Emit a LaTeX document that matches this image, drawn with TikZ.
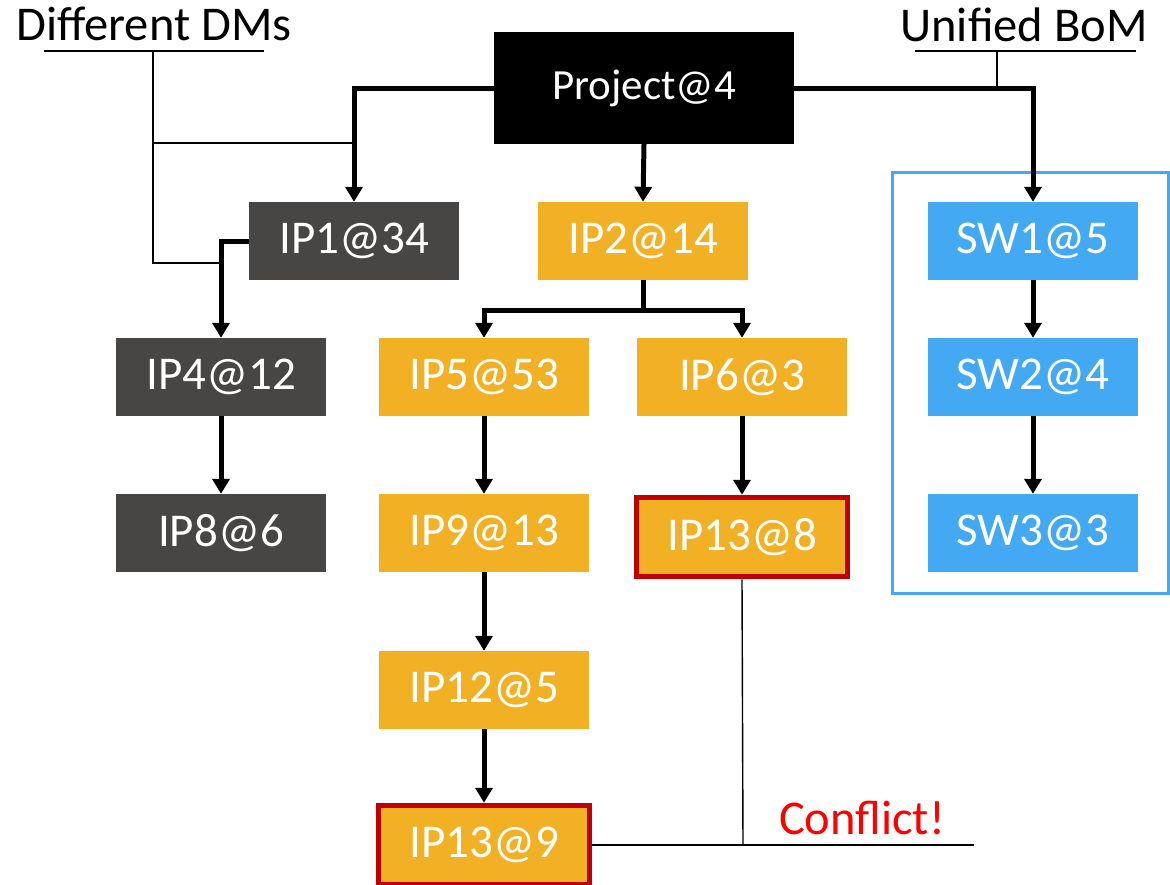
\documentclass[tikz,border=0pt]{standalone}
\usepackage{fontspec}
\setmainfont{Carlito}
\usetikzlibrary{arrows.meta,calc}
\definecolor{dgray}{HTML}{474645}
\definecolor{gold}{HTML}{F2B124}
\definecolor{sky}{HTML}{42A9F2}
\definecolor{dred}{HTML}{C00000}
\definecolor{bred}{HTML}{FF0000}
\tikzset{
  box/.style={minimum width=210pt, minimum height=78pt, inner sep=0pt, text=white, font=\fontsize{47}{47}\selectfont},
  dbox/.style={box, fill=dgray},
  gbox/.style={box, fill=gold},
  bbox/.style={box, fill=sky},
  rbox/.style={box, fill=gold, draw=dred, line width=5.5pt, minimum width=211pt, minimum height=79pt},
  conn/.style={line width=5pt, -{Triangle[length=15pt,width=17pt]}},
  plainconn/.style={line width=5pt},
  thin/.style={line width=1.4pt},
  lbl/.style={font=\fontsize{48.5}{48.5}\selectfont, inner sep=0pt, anchor=base},
}
\begin{document}
\begin{tikzpicture}[x=1pt,y=-1pt]
\useasboundingbox (0,0) rectangle (1170,884);
% blue frame
\draw[sky, line width=3.5pt] (892.5,172.5) rectangle (1168.5,593.5);
% nodes
\node[box, fill=black, minimum width=300pt, minimum height=112pt, font=\fontsize{43}{43}\selectfont] (proj) at (644,88) {Project@4};
\node[dbox] (ip1) at (354,241) {IP1@34};
\node[gbox] (ip2) at (643,241) {IP2@14};
\node[bbox] (sw1) at (1033,241) {SW1@5};
\node[dbox] (ip4) at (221,377) {IP4@12};
\node[gbox] (ip5) at (484,377) {IP5@53};
\node[gbox] (ip6) at (742,377) {IP6@3};
\node[bbox] (sw2) at (1033,377) {SW2@4};
\node[dbox] (ip8) at (221,533) {IP8@6};
\node[gbox] (ip9) at (484,533) {IP9@13};
\node[rbox] (ip13a) at (742,537) {IP13@8};
\node[bbox] (sw3) at (1033,533) {SW3@3};
\node[gbox] (ip12) at (484,690) {IP12@5};
\node[rbox] (ip13b) at (484,845) {IP13@9};
% labels
\node[lbl] (dm) at (154,40) {Different DMs};
\node[lbl] (ub) at (1024,41) {Unified BoM};
\node[lbl, text=bred] (cf) at (862,834) {Conflict!};
% connectors
\draw[conn] (proj.west) -| (ip1.north);
\draw[conn] (proj.south) -- (ip2.north);
\draw[conn] (proj.east) -| (sw1.north);
\draw[conn] (ip1.west) -| (ip4.north);
\coordinate (b2) at ($(ip2.south)+(0,30)$);
\draw[plainconn] (ip2.south) -- (b2);
\draw[conn] (b2) -| (ip5.north);
\draw[conn] (b2) -| (ip6.north);
\draw[conn] (ip4) -- (ip8);
\draw[conn] (ip5) -- (ip9);
\draw[conn] (ip9) -- (ip12);
\draw[conn] (ip12) -- (ip13b);
\draw[conn] (ip6) -- (ip13a);
\draw[conn] (sw1) -- (sw2);
\draw[conn] (sw2) -- (sw3);
% callout: Different DMs
\coordinate (dmL) at (44,51);
\coordinate (dmR) at (264,51);
\coordinate (dmT) at (153,51);
\coordinate (dmM) at (153,143);
\coordinate (dmB) at (153,263);
\coordinate (dmA) at (352,143);
\coordinate (dmC) at (221,263);
\draw[thin] (dmL) -- (dmR);
\draw[thin] (dmT) -- (dmB) -- (dmC);
\draw[thin] (dmM) -- (dmA);
% callout: Unified BoM
\coordinate (ubL) at (915,51);
\coordinate (ubR) at (1136,51);
\coordinate (ubT) at (997,51);
\coordinate (ubB) at (997,88);
\draw[thin] (ubL) -- (ubR);
\draw[thin] (ubT) -- (ubB);
% callout: Conflict
\coordinate (cfR) at (974,845);
\coordinate (cfJ) at (743,845);
\draw[thin] (ip13b.east) -- (cfR);
\draw[thin] (ip13a.south) -- (cfJ);
\end{tikzpicture}
\end{document}
